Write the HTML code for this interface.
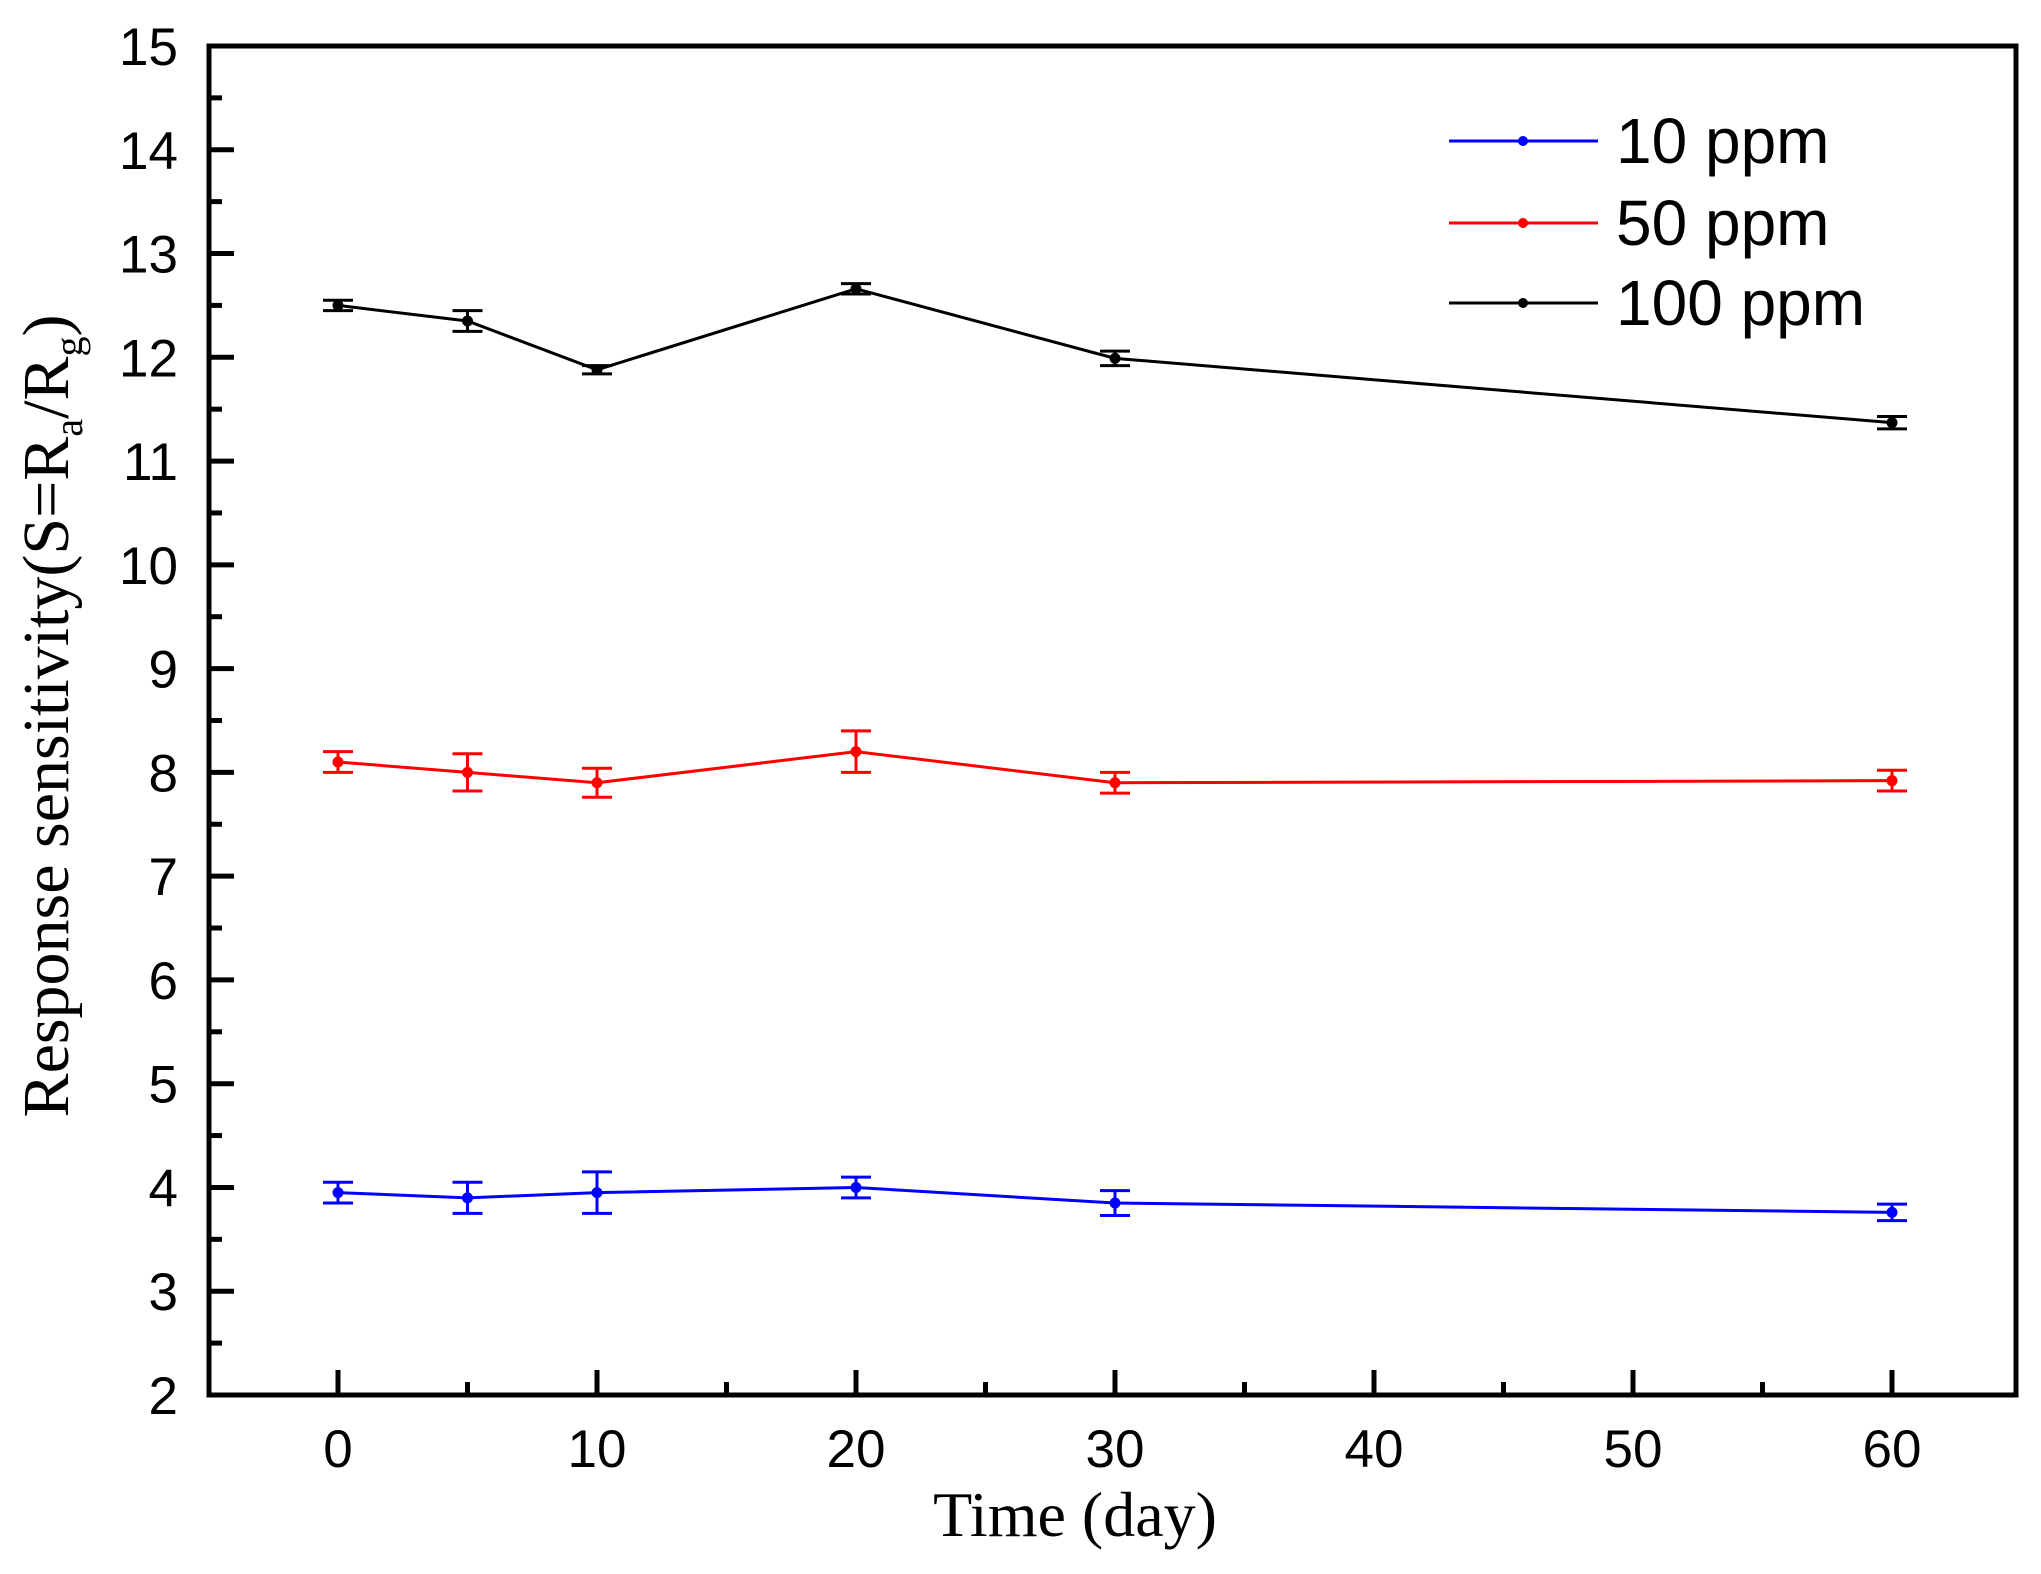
<!DOCTYPE html>
<html><head><meta charset="utf-8">
<style>
html,body{margin:0;padding:0;background:#fff;}
svg{display:block;}
</style></head>
<body>
<svg id="s" width="2041" height="1574" viewBox="0 0 2041 1574" xmlns="http://www.w3.org/2000/svg">
<rect width="2041" height="1574" fill="#fff"/>
<g id="g"></g>
<text x="1075" y="1536" font-family="Liberation Serif, serif" font-size="64" text-anchor="middle">Time (day)</text>
<text transform="translate(68,716) rotate(-90)" font-family="Liberation Serif, serif" font-size="66" text-anchor="middle">Response sensitivity(S=R<tspan font-size="40" dy="14">a</tspan><tspan dy="-14">/R</tspan><tspan font-size="40" dy="14">g</tspan><tspan dy="-14">)</tspan></text>
<g font-family="Liberation Sans, sans-serif" font-size="64">
<line x1="1449" y1="141" x2="1598" y2="141" stroke="#00f" stroke-width="3"/><circle cx="1523" cy="141" r="5" fill="#00f"/>
<text x="1616" y="163">10 ppm</text>
<line x1="1449" y1="223" x2="1598" y2="223" stroke="#f00" stroke-width="3"/><circle cx="1523" cy="223" r="5" fill="#f00"/>
<text x="1616" y="245">50 ppm</text>
<line x1="1449" y1="303" x2="1598" y2="303" stroke="#000" stroke-width="3"/><circle cx="1523" cy="303" r="5" fill="#000"/>
<text x="1616" y="325">100 ppm</text>
</g>
</svg>
<script>
const g=document.getElementById('g');let h='';
const X=v=>338+v*25.9, Y=v=>1395-(v-2)*103.77;
const L=209,R=2016,T=46,B=1395;
for(let v=2;v<=15;v++){const y=Y(v);h+=`<line x1="${L}" y1="${y}" x2="${L+25}" y2="${y}" stroke="#000" stroke-width="5"/>`;
h+=`<text x="178" y="${y+19}" font-family="Liberation Sans, sans-serif" font-size="53" text-anchor="end">${v}</text>`;
if(v<15)h+=`<line x1="${L}" y1="${y-51.9}" x2="${L+13}" y2="${y-51.9}" stroke="#000" stroke-width="5"/>`;}
for(let v=0;v<=60;v+=10){const x=X(v);h+=`<line x1="${x}" y1="${B}" x2="${x}" y2="${B-25}" stroke="#000" stroke-width="5"/>`;
h+=`<text x="${x}" y="1467" font-family="Liberation Sans, sans-serif" font-size="53" text-anchor="middle">${v}</text>`;
if(v<60)h+=`<line x1="${x+129.5}" y1="${B}" x2="${x+129.5}" y2="${B-13}" stroke="#000" stroke-width="5"/>`;}
h+=`<rect x="${L}" y="${T}" width="${R-L}" height="${B-T}" fill="none" stroke="#000" stroke-width="5"/>`;
const xs=[0,5,10,20,30,60];
const S=[["#000",[12.5,12.35,11.88,12.66,11.99,11.37],[.05,.1,.04,.05,.07,.06]],
["#f00",[8.1,8.0,7.9,8.2,7.9,7.92],[.1,.18,.14,.2,.1,.1]],
["#00f",[3.95,3.9,3.95,4.0,3.85,3.76],[.1,.15,.2,.1,.12,.08]]];
for(const [c,ys,es] of S){h+=`<polyline fill="none" stroke="${c}" stroke-width="3" points="${xs.map((x,i)=>X(x)+','+Y(ys[i])).join(' ')}"/>`;
xs.forEach((x,i)=>{const cx=X(x),y1=Y(ys[i]+es[i]),y2=Y(ys[i]-es[i]);
h+=`<line x1="${cx}" y1="${y1}" x2="${cx}" y2="${y2}" stroke="${c}" stroke-width="3"/><line x1="${cx-15}" y1="${y1}" x2="${cx+15}" y2="${y1}" stroke="${c}" stroke-width="3"/><line x1="${cx-15}" y1="${y2}" x2="${cx+15}" y2="${y2}" stroke="${c}" stroke-width="3"/><circle cx="${cx}" cy="${Y(ys[i])}" r="5.5" fill="${c}"/>`;});}
g.innerHTML=h;
</script>
</body></html>
